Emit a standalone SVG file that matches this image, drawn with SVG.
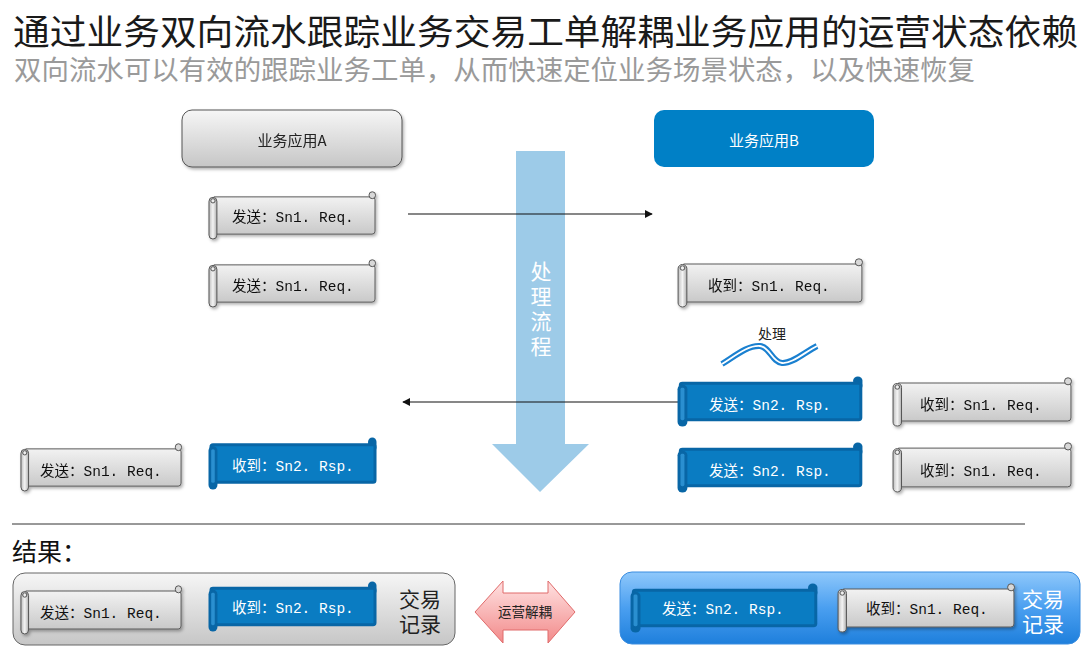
<svg xmlns="http://www.w3.org/2000/svg" xmlns:xlink="http://www.w3.org/1999/xlink" width="1088" height="649" viewBox="0 0 1088 649">
<style>
.t{font-family:"Liberation Mono","Noto Sans CJK SC",monospace;font-size:14.5px}
.dk{fill:#111}
.wt{fill:#fff}
.cn{font-family:"Noto Sans CJK SC","Noto Sans",sans-serif}
.conn{stroke:#111;stroke-width:1.2;fill:none}
</style>
<defs>
<linearGradient id="gBox" x1="0" y1="0" x2="0" y2="1"><stop offset="0" stop-color="#f6f6f6"/><stop offset="1" stop-color="#c6c6c6"/></linearGradient>
<linearGradient id="gScroll" x1="0" y1="0" x2="0" y2="1"><stop offset="0" stop-color="#f2f2f2"/><stop offset="1" stop-color="#c9c9c9"/></linearGradient>
<linearGradient id="gTube" x1="0" y1="0" x2="1" y2="0"><stop offset="0" stop-color="#bdbdbd"/><stop offset="0.5" stop-color="#f4f4f4"/><stop offset="1" stop-color="#b0b0b0"/></linearGradient>
<linearGradient id="gBlueRes" x1="0" y1="0" x2="0" y2="1"><stop offset="0" stop-color="#8fc8fb"/><stop offset="0.5" stop-color="#4a9ff0"/><stop offset="1" stop-color="#1e7fdc"/></linearGradient>
<linearGradient id="gPink" x1="0" y1="0" x2="0" y2="1"><stop offset="0" stop-color="#ffe2e2"/><stop offset="1" stop-color="#f28a8a"/></linearGradient>
<filter id="sh" x="-5%" y="-10%" width="115%" height="130%"><feDropShadow dx="1.5" dy="2" stdDeviation="1.5" flood-color="#000" flood-opacity="0.3"/></filter>
<marker id="ah" viewBox="0 0 10 10" refX="9" refY="5" markerWidth="8" markerHeight="8" orient="auto-start-reverse" markerUnits="userSpaceOnUse"><path d="M0,0 L10,5 L0,10 Z" fill="#111"/></marker>
<symbol id="sGray" viewBox="0 0 170 50" preserveAspectRatio="none">
<path d="M6,6 H166 Q169,6 169,9 V41 Q169,44 166,44 H6 Z" fill="url(#gScroll)" stroke="#5a5a5a" stroke-width="1" vector-effect="non-scaling-stroke"/>
<rect x="163" y="0.8" width="6.5" height="7" rx="3.2" fill="#d8d8d8" stroke="#555" stroke-width="1" vector-effect="non-scaling-stroke"/>
<rect x="1" y="6.5" width="8" height="42.5" rx="4" fill="url(#gTube)" stroke="#555" stroke-width="1" vector-effect="non-scaling-stroke"/>
<circle cx="5" cy="10" r="2.2" fill="none" stroke="#555" stroke-width="1" vector-effect="non-scaling-stroke"/>
</symbol>
<symbol id="sBlue" viewBox="0 0 170 52" preserveAspectRatio="none">
<rect x="161" y="0.5" width="8.5" height="14" rx="4.2" fill="#0866a6"/>
<rect x="3" y="7.5" width="165" height="37" rx="2" fill="#0a7cc2" stroke="#0866a6" stroke-width="3" vector-effect="non-scaling-stroke"/>
<rect x="0.5" y="9" width="9" height="42.5" rx="4.5" fill="#0866a6"/>
<rect x="3.2" y="12" width="3.6" height="33" rx="1.5" fill="#2a8fd0"/>
</symbol>
</defs>
<rect width="1088" height="649" fill="#fff"/>

<g id="title">
<text x="13" y="45" class="cn" font-size="35" fill="#1a1a1a" textLength="1065" lengthAdjust="spacingAndGlyphs">通过业务双向流水跟踪业务交易工单解耦业务应用的运营状态依赖</text>
<text x="14" y="80" class="cn" font-size="27" fill="#9a9a9a" textLength="961" lengthAdjust="spacingAndGlyphs">双向流水可以有效的跟踪业务工单，从而快速定位业务场景状态，以及快速恢复</text>
</g>

<g id="flow-arrow">
<polygon points="516,151 565,151 565,444 589,444 540,492 492,444 516,444" fill="#9dcbe8"/>
<text x="541" y="261" class="cn" font-size="21" fill="#fff" style="writing-mode:vertical-rl" letter-spacing="4">处理流程</text>
</g>

<g id="app-a" filter="url(#sh)">
<rect x="182" y="110" width="220" height="57" rx="10" fill="url(#gBox)" stroke="#555" stroke-width="1"/>
<text x="292" y="146" text-anchor="middle" class="cn" font-size="15" fill="#222">业务应用A</text>
</g>
<g id="app-b">
<rect x="654" y="110" width="220" height="57" rx="10" fill="#0080c6"/>
<text x="764" y="146" text-anchor="middle" class="cn" font-size="15" fill="#fff">业务应用B</text>
</g>

<g id="connectors">
<line class="conn" x1="408" y1="214" x2="652" y2="214" marker-end="url(#ah)"/>
<line class="conn" x1="678" y1="402" x2="403" y2="402" marker-end="url(#ah)"/>
</g>

<g id="a-send-1" filter="url(#sh)"><use href="#sGray" x="208" y="191" width="168" height="49"/><text x="232" y="222" class="t dk">发送：Sn1. Req.</text></g>
<g id="a-send-2" filter="url(#sh)"><use href="#sGray" x="208" y="259" width="168" height="49"/><text x="232" y="291" class="t dk">发送：Sn1. Req.</text></g>
<g id="a-send-3" filter="url(#sh)"><use href="#sGray" x="20" y="443" width="162" height="49"/><text x="40" y="476" class="t dk">发送：Sn1. Req.</text></g>
<g id="a-recv-1"><use href="#sBlue" x="208" y="437" width="169" height="53"/><text x="232" y="471" class="t wt">收到：Sn2. Rsp.</text></g>

<g id="b-recv-1" filter="url(#sh)"><use href="#sGray" x="677" y="258" width="186" height="50"/><text x="708" y="291" class="t dk">收到：Sn1. Req.</text></g>

<g id="process">
<text x="772" y="339" text-anchor="middle" class="cn" font-size="14" fill="#222">处理</text>
<path d="M722,364 C735,356 748,345 760,346 C770,347 772,362 782,363 C792,364 805,352 817,346" fill="none" stroke="#1a80d0" stroke-width="6"/>
<path d="M722,364 C735,356 748,345 760,346 C770,347 772,362 782,363 C792,364 805,352 817,346" fill="none" stroke="#fff" stroke-width="1.8"/>
</g>

<g id="b-send-1"><use href="#sBlue" x="677" y="376" width="186" height="51"/><text x="709" y="410" class="t wt">发送：Sn2. Rsp.</text></g>
<g id="b-send-2"><use href="#sBlue" x="677" y="442" width="186" height="51"/><text x="709" y="476" class="t wt">发送：Sn2. Rsp.</text></g>
<g id="b-recv-2" filter="url(#sh)"><use href="#sGray" x="892" y="377" width="180" height="50"/><text x="920" y="410" class="t dk">收到：Sn1. Req.</text></g>
<g id="b-recv-3" filter="url(#sh)"><use href="#sGray" x="892" y="442" width="180" height="51"/><text x="920" y="476" class="t dk">收到：Sn1. Req.</text></g>

<g id="separator"><line x1="12" y1="524" x2="1025" y2="524" stroke="#333" stroke-width="1"/></g>
<g id="result-label"><text x="12" y="561" class="cn" font-size="25" fill="#111">结果：</text></g>

<g id="result-a">
<rect x="13" y="573" width="442" height="72" rx="12" fill="url(#gBox)" stroke="#666" stroke-width="1"/>
<g filter="url(#sh)"><use href="#sGray" x="20" y="585" width="162" height="50"/></g>
<text x="40" y="618" class="t dk">发送：Sn1. Req.</text>
<use href="#sBlue" x="208" y="581" width="169" height="51"/>
<text x="232" y="613" class="t wt">收到：Sn2. Rsp.</text>
<text class="cn" font-size="21" fill="#222"><tspan x="399" y="607">交易</tspan><tspan x="399" y="632">记录</tspan></text>
</g>

<g id="decouple">
<polygon points="475,612 503,581 503,593 548,593 548,581 575,612 548,643 548,630 503,630 503,643" fill="url(#gPink)" stroke="#e06a6a" stroke-width="1"/>
<text x="525" y="617" text-anchor="middle" class="cn" font-size="13.5" fill="#222">运营解耦</text>
</g>

<g id="result-b">
<rect x="620" y="572" width="460" height="72" rx="12" fill="url(#gBlueRes)" stroke="#3a8de0" stroke-width="1"/>
<use href="#sBlue" x="630" y="583" width="188" height="50"/>
<text x="662" y="614" class="t wt">发送：Sn2. Rsp.</text>
<g filter="url(#sh)"><use href="#sGray" x="837" y="583" width="178" height="50"/></g>
<text x="866" y="614" class="t dk">收到：Sn1. Req.</text>
<text class="cn" font-size="21" fill="#fff"><tspan x="1022" y="607">交易</tspan><tspan x="1022" y="632">记录</tspan></text>
</g>
</svg>
